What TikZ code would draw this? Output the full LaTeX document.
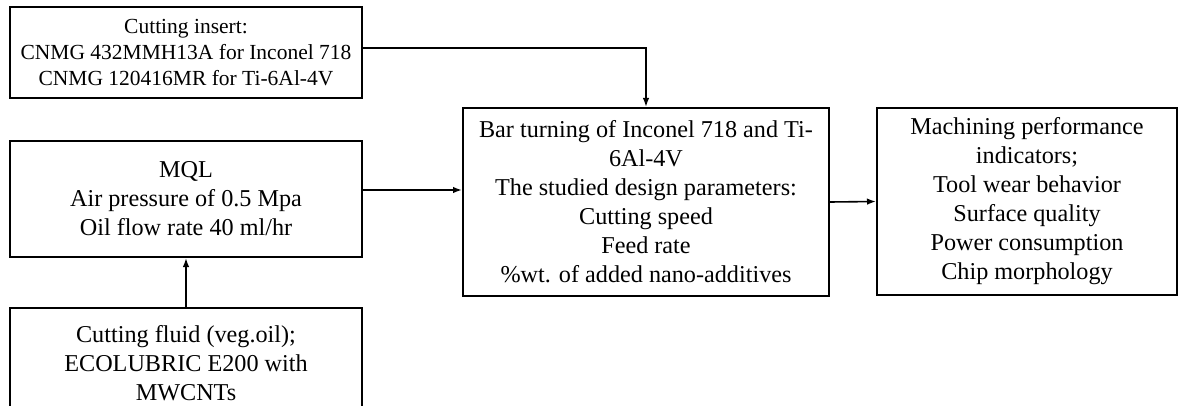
\documentclass[tikz,border=0pt]{standalone}
\usepackage{fontspec}
\setmainfont{Liberation Serif}
\usepackage{tikz}
\usetikzlibrary{arrows.meta,positioning,calc}
\tikzset{
  >={Latex[length=9pt,width=6.5pt]},
  box/.style ={rectangle,draw=black,line width=2pt,align=center,inner sep=2pt},
  flow/.style={->,line width=1.6pt,black},
}

\begin{document}
\begin{tikzpicture}[x=1pt,y=-1pt,font=\rmfamily\fontsize{24.2}{29}\selectfont]
  \useasboundingbox (0,0) rectangle (1178,406);
  \node[box,minimum width=352,minimum height=91,font=\rmfamily\fontsize{21.5}{26}\selectfont] (ins) at (186,52.5)
        {Cutting insert:\\CNMG 432MMH13A for Inconel 718\\CNMG 120416MR for Ti-6Al-4V};
  \node[box,minimum width=352,minimum height=116] (mql) at (186,199)
        {MQL\\Air pressure of 0.5 Mpa\\Oil flow rate 40 ml/hr};
  \node[box,minimum width=352,minimum height=110,anchor=north] (fluid) at (186,307)
        {Cutting fluid (veg.oil);\\ECOLUBRIC E200 with\\MWCNTs};
  \node[box,minimum width=366,minimum height=188] (turn) at (646,202)
        {Bar turning of Inconel 718 and Ti-\\6Al-4V\\The studied design parameters:\\Cutting speed\\Feed rate\\\%wt. of added nano-additives};
  \node[box,minimum width=300,minimum height=187] (perf) at (1027,201.5)
        {Machining performance\\indicators;\\Tool wear behavior\\Surface quality\\Power consumption\\Chip morphology};
  \draw[flow] ([yshift=4.5pt]ins.east) -| (turn.north);
  \draw[flow] ([yshift=9pt]mql.east) -- ([yshift=9pt]mql.east -| turn.west);
  \draw[flow] (fluid.north) -- (mql.south);
  \draw[flow] (turn.east) -- (perf.west);
\end{tikzpicture}
\end{document}
